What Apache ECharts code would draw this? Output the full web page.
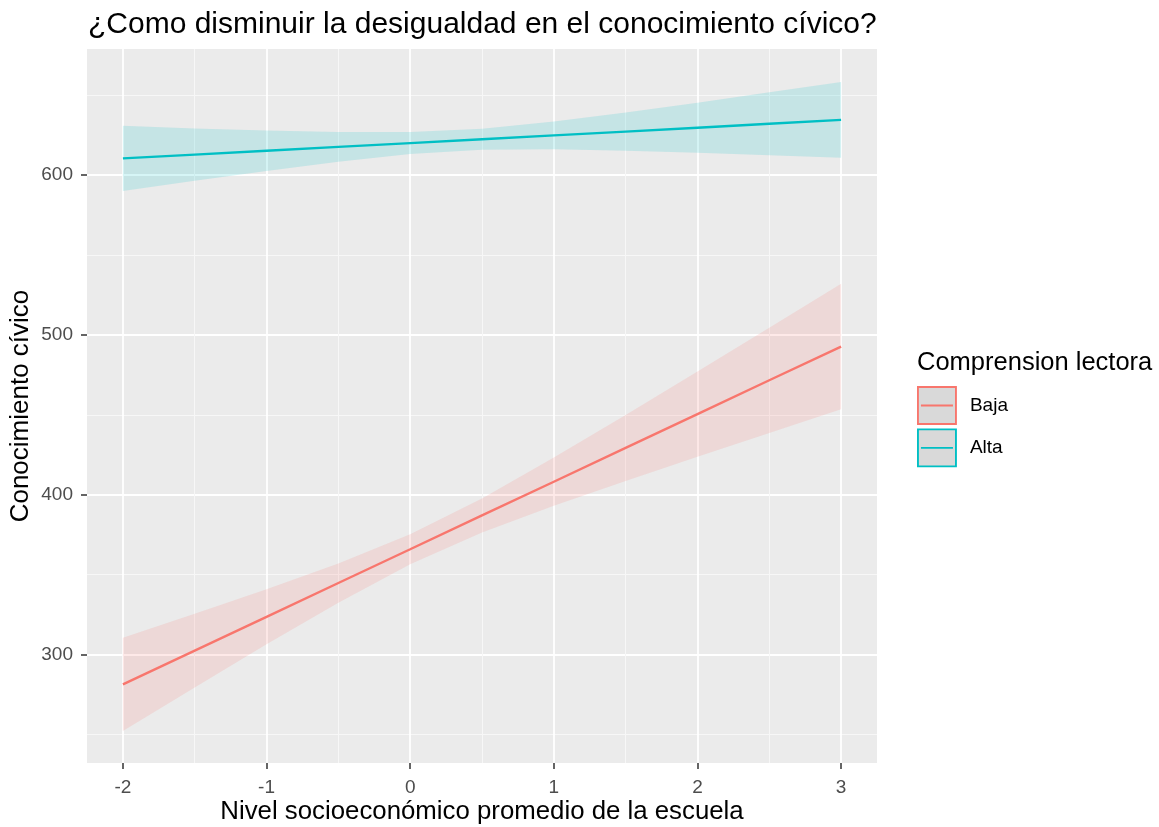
<!DOCTYPE html>
<html>
<head>
<meta charset="utf-8">
<script src="https://cdn.jsdelivr.net/npm/echarts@6/dist/echarts.min.js"></script>
<style>html,body{margin:0;padding:0;background:#fff;}#c{width:1159px;height:827px;}</style>
</head>
<body>
<div id="c"></div>
<script>
const xValues = [-2, -1.5, -1, -0.5, 0, 0.5, 1, 1.5, 2, 2.5, 3];
const bajaFit   = [281.2, 302.4, 323.5, 344.7, 365.8, 387.0, 408.1, 429.3, 450.4, 471.6, 492.7];
const bajaLower = [252.0, 279.3, 306.3, 332.4, 356.4, 376.3, 393.0, 408.6, 423.7, 438.6, 453.4];
const bajaUpper = [310.4, 325.4, 340.7, 356.9, 375.2, 397.6, 423.2, 449.9, 477.1, 504.5, 532.0];
const altaFit   = [610.5, 612.9, 615.3, 617.7, 620.1, 622.5, 624.9, 627.3, 629.7, 632.2, 634.6];
const altaLower = [590.1, 596.5, 602.6, 608.4, 613.2, 615.9, 616.2, 615.3, 614.0, 612.5, 610.9];
const altaUpper = [630.9, 629.3, 628.0, 627.0, 627.0, 629.1, 633.6, 639.3, 645.4, 651.9, 658.3];
const xTicks = [-2, -1, 0, 1, 2, 3];
const xMinorTicks = [-1.5, -0.5, 0.5, 1.5, 2.5];
const yTicks = [300, 400, 500, 600];
const yMinorTicks = [250, 350, 450, 550, 650];
const groups = ['Baja', 'Alta'];

const FONT = 'Liberation Sans, Arial, sans-serif';
const COLORS = { Baja: '#F8766D', Alta: '#00BFC4' };

function pairs(ys) { return xValues.map((x, i) => [x, ys[i]]); }

function bandSeries(name, lo, hi) {
  return {
    name: name + '_band', type: 'custom', silent: true, z: 1,
    data: xValues.map((x, i) => [x, lo[i], hi[i]]),
    encode: { x: 0, y: [1, 2] },
    renderItem: function (params, api) {
      if (params.dataIndex !== 0) return null;
      const pts = [];
      for (let i = 0; i < xValues.length; i++) pts.push(api.coord([xValues[i], hi[i]]));
      for (let i = xValues.length - 1; i >= 0; i--) pts.push(api.coord([xValues[i], lo[i]]));
      return { type: 'polygon', shape: { points: pts },
               style: { fill: COLORS[name], opacity: 0.16 } };
    }
  };
}

const chart = echarts.init(document.getElementById('c'), null, { renderer: 'canvas' });
chart.setOption({
  animation: false,
  backgroundColor: '#ffffff',
  textStyle: { fontFamily: FONT },
  title: [
    { text: '¿Como disminuir la desigualdad en el conocimiento cívico?', left: 88, top: 10, padding: 0,
      textStyle: { fontFamily: FONT, fontSize: 30, fontWeight: 'normal', color: '#000000' } },
    { text: 'Comprension lectora', left: 917, top: 350, padding: 0,
      textStyle: { fontFamily: FONT, fontSize: 25.5, fontWeight: 'normal', color: '#000000' } }
  ],
  legend: {
    data: groups.map(g => ({
      name: g,
      icon: 'path://M0,0 H38 V37 H0 Z M3,18.5 H35',
      itemStyle: { color: '#D9D9D9', borderColor: COLORS[g], borderWidth: 1.9 }
    })),
    orient: 'vertical', left: 917, top: 386, padding: 0,
    itemWidth: 38, itemHeight: 37.5, itemGap: 3.5,
    selectedMode: false,
    textStyle: { fontFamily: FONT, fontSize: 19, color: '#000000', padding: [0, 0, 0, 9] }
  },
  grid: { left: 87, right: 282, top: 49, bottom: 64, show: true, backgroundColor: '#EBEBEB',
          borderWidth: 0, containLabel: false, outerBoundsMode: 'none' },
  xAxis: [
    { type: 'value', min: -2.25, max: 3.25,
      name: 'Nivel socioeconómico promedio de la escuela', nameLocation: 'middle', nameGap: 36,
      nameMoveOverlap: false,
      nameTextStyle: { fontFamily: FONT, fontSize: 25.8, color: '#000000' },
      axisLine: { show: false, onZero: false },
      axisTick: { show: true, customValues: xTicks, length: 6, lineStyle: { color: '#333333', width: 1.5 } },
      axisLabel: { customValues: xTicks, margin: 15, fontFamily: FONT, fontSize: 19, color: '#4D4D4D' },
      splitLine: { show: true, lineStyle: { color: '#FFFFFF', width: 1.8 } } },
    { type: 'value', min: -2.25, max: 3.25, position: 'bottom',
      axisLine: { show: false, onZero: false }, axisLabel: { show: false },
      axisTick: { show: false, customValues: xMinorTicks },
      splitLine: { show: true, lineStyle: { color: '#F7F7F7', width: 1 } } }
  ],
  yAxis: [
    { type: 'value', min: 232, max: 679,
      name: 'Conocimiento cívico', nameLocation: 'middle', nameGap: 53, nameRotate: 90,
      nameMoveOverlap: false,
      nameTextStyle: { fontFamily: FONT, fontSize: 26, color: '#000000' },
      axisLine: { show: false, onZero: false },
      axisTick: { show: true, customValues: yTicks, length: 6, lineStyle: { color: '#333333', width: 1.5 } },
      axisLabel: { customValues: yTicks, margin: 14, fontFamily: FONT, fontSize: 19, color: '#4D4D4D' },
      splitLine: { show: true, lineStyle: { color: '#FFFFFF', width: 1.8 } } },
    { type: 'value', min: 232, max: 679, position: 'left',
      axisLine: { show: false, onZero: false }, axisLabel: { show: false },
      axisTick: { show: false, customValues: yMinorTicks },
      splitLine: { show: true, lineStyle: { color: '#F7F7F7', width: 1 } } }
  ],
  series: [
    bandSeries('Baja', bajaLower, bajaUpper),
    bandSeries('Alta', altaLower, altaUpper),
    { name: 'Baja', type: 'line', data: pairs(bajaFit), showSymbol: false, symbol: 'none',
      lineStyle: { color: COLORS.Baja, width: 2.4 }, itemStyle: { color: COLORS.Baja }, z: 3 },
    { name: 'Alta', type: 'line', data: pairs(altaFit), showSymbol: false, symbol: 'none',
      lineStyle: { color: COLORS.Alta, width: 2.4 }, itemStyle: { color: COLORS.Alta }, z: 3 }
  ]
});
</script>
</body>
</html>
